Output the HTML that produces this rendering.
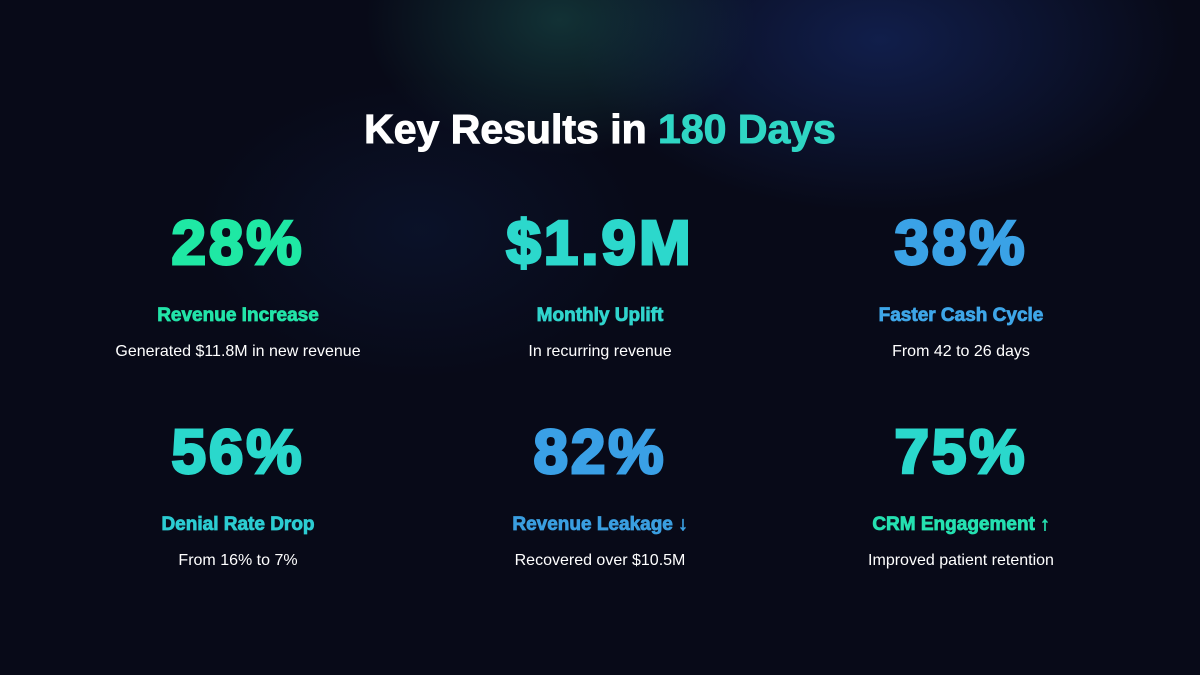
<!DOCTYPE html>
<html><head><meta charset="utf-8"><style>
html,body{margin:0;padding:0}
body{width:1200px;height:675px;overflow:hidden;position:relative;font-family:"Liberation Sans",sans-serif;
background:#080a18;}
.bg{position:absolute;inset:0;
background:
radial-gradient(ellipse 260px 180px at 560px 20px, rgba(40,140,120,0.30), transparent 75%),
radial-gradient(ellipse 420px 240px at 880px 40px, rgba(30,60,150,0.40), transparent 72%),
radial-gradient(ellipse 300px 200px at 420px 230px, rgba(20,45,100,0.22), transparent 75%),
#080a18;}
h1{position:absolute;top:106px;left:0;width:1200px;text-align:center;margin:0;font-size:41px;font-weight:bold;color:#fff;-webkit-text-stroke:1px #fff}
h1 span{color:#2fd6c4;-webkit-text-stroke:1px #2fd6c4}
.cell{position:absolute;width:400px;text-align:center}
.num{font-size:62px;font-weight:bold;letter-spacing:3px;line-height:66px;height:66px;-webkit-text-stroke:3px currentColor}
.lab{font-size:19px;font-weight:bold;margin-top:27px;line-height:24px;-webkit-text-stroke:0.8px currentColor}
.sub{font-size:16px;color:#fff;margin-top:14px;line-height:20px}
</style></head><body>
<div class="bg"></div>
<h1>Key Results in <span>180 Days</span></h1>

<div class="cell" style="left:38px;top:211px">
<div class="num" style="color:#1fe8a4">28%</div>
<div class="lab" style="color:#22e4a8">Revenue Increase</div>
<div class="sub">Generated $11.8M in new revenue</div></div>

<div class="cell" style="left:400px;top:211px">
<div class="num" style="color:#2cd8cc">$1.9M</div>
<div class="lab" style="color:#30d4cc">Monthly Uplift</div>
<div class="sub">In recurring revenue</div></div>

<div class="cell" style="left:761px;top:211px">
<div class="num" style="color:#3aa2e6">38%</div>
<div class="lab" style="color:#3ea6e8">Faster Cash Cycle</div>
<div class="sub">From 42 to 26 days</div></div>

<div class="cell" style="left:38px;top:420px">
<div class="num" style="color:#2ad8cc">56%</div>
<div class="lab" style="color:#2cccd2">Denial Rate Drop</div>
<div class="sub">From 16% to 7%</div></div>

<div class="cell" style="left:400px;top:420px">
<div class="num" style="color:#3aa0e6">82%</div>
<div class="lab" style="color:#3a9ee0">Revenue Leakage ↓</div>
<div class="sub">Recovered over $10.5M</div></div>

<div class="cell" style="left:761px;top:420px">
<div class="num" style="color:#2ad8cc">75%</div>
<div class="lab" style="color:#25e0b0">CRM Engagement ↑</div>
<div class="sub">Improved patient retention</div></div>
</body></html>
